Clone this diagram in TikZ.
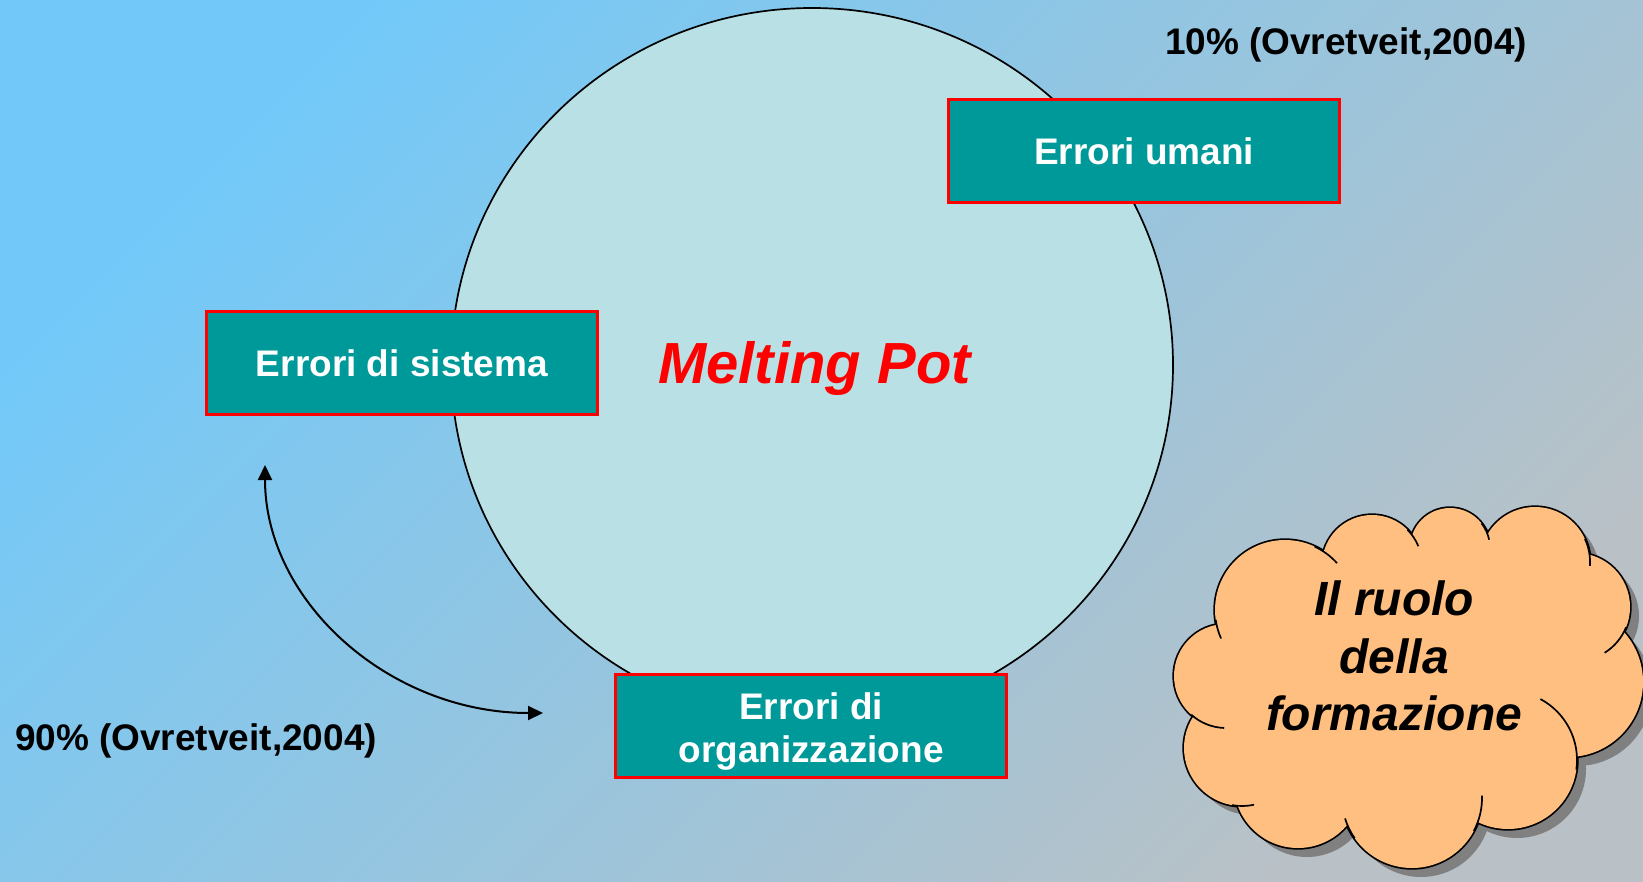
\documentclass[tikz,border=0pt]{standalone}
\usepackage{fontspec}
\setmainfont{Liberation Sans}
\usetikzlibrary{arrows.meta}
\definecolor{bgA}{RGB}{114,201,249}
\definecolor{bgB}{RGB}{185,193,198}
\definecolor{potfill}{RGB}{185,224,228}
\definecolor{boxteal}{RGB}{0,153,153}
\definecolor{cloudfill}{RGB}{255,191,128}
\definecolor{shadowgray}{RGB}{128,128,128}
\def\cloudcircles{1226/676/52, 1242/748/58, 1298/784/64, 1412/798/70, 1508/760/69, 1568/682/75, 1576/607/54, 1535/562/55, 1450/548/40, 1372/565/50, 1285/610/70}
\def\cloudcore{(1226,676) -- (1242,748) -- (1298,784) -- (1412,798) -- (1508,760) -- (1568,682) -- (1576,607) -- (1535,562) -- (1450,548) -- (1372,565) -- (1285,610) -- cycle}
\begin{document}
\begin{tikzpicture}[x=1pt,y=-1pt,
  errbox/.style={draw=red, line width=3pt, fill=boxteal, text=white,
    font=\fontsize{37}{43}\selectfont\bfseries, minimum width=391pt,
    minimum height=103pt, inner sep=0pt, align=center},
  ref/.style={font=\fontsize{37}{42}\selectfont\bfseries, anchor=base, inner sep=0pt},
  link/.style={line width=2pt, {Triangle[length=15pt,width=14pt]}-{Triangle[length=15pt,width=14pt]}},
  stub/.style={line width=1.7pt}
]
\useasboundingbox (0,0) rectangle (1643,882);
\shade[top color=bgA, bottom color=bgB, shading angle=45] (0,0) rectangle (1643,882);

% melting pot
\draw[fill=potfill, line width=1.7pt] (812,365) ellipse [x radius=361, y radius=357];

\node[errbox] (umani) at (1144,151) {Errori umani};
\node[errbox] (sistema) at (402,363) {Errori di sistema};
\node[errbox] (org) at (811,726) {\rule{0pt}{37pt}Errori di\\organizzazione};
\node[font=\fontsize{58}{68}\selectfont\bfseries\itshape, text=red, anchor=base, inner sep=0pt] (pot) at (814.5,383) {Melting Pot};

\node[ref] (ref10) at (1346,55) {10\% (Ovretveit,2004)};
\node[ref] (ref90) at (196,750) {90\% (Ovretveit,2004)};

\coordinate (arrA) at (265,465);
\coordinate (arrB) at (543,713);
\draw[link] (arrA) .. controls (265,602) and (390,713) .. (arrB);

% cloud shadow
\begin{scope}[shift={(9,9)}]
  \foreach \x/\y/\r in \cloudcircles { \fill[shadowgray] (\x,\y) circle (\r); }
  \fill[shadowgray] \cloudcore;
\end{scope}
% cloud outline + fill
\foreach \x/\y/\r in \cloudcircles { \draw[line width=3.4pt] (\x,\y) circle (\r); }
\foreach \x/\y/\r in \cloudcircles { \fill[cloudfill] (\x,\y) circle (\r); }
\fill[cloudfill] \cloudcore;
% interior arcs
\draw[stub] (1285,610) ++(-65:70) arc (-65:-42:70);
\draw[stub] (1285,610) ++(172:70) arc (172:156:70);
\draw[stub] (1372,565) ++(-45:50) arc (-45:-22:50);
\draw[stub] (1450,548) ++(-38:40) arc (-38:-12:40);
\draw[stub] (1535,562) ++(-25:55) arc (-25:4:55);
\draw[stub] (1576,607) ++(22:54) arc (22:58:54);
\draw[stub] (1508,760) ++(8:69) arc (8:-62:69);
\draw[stub] (1412,798) ++(28:70) arc (28:-2:70);
\draw[stub] (1412,798) ++(145:70) arc (145:163:70);
\draw[stub] (1242,748) ++(100:58) arc (100:78:58);
\draw[stub] (1226,676) ++(132:52) arc (132:92:52);

\node[font=\fontsize{48}{57.5}\selectfont\bfseries\itshape, align=center, inner sep=0pt] (role) at (1394,656) {Il ruolo\\della\\formazione};
\end{tikzpicture}
\end{document}
